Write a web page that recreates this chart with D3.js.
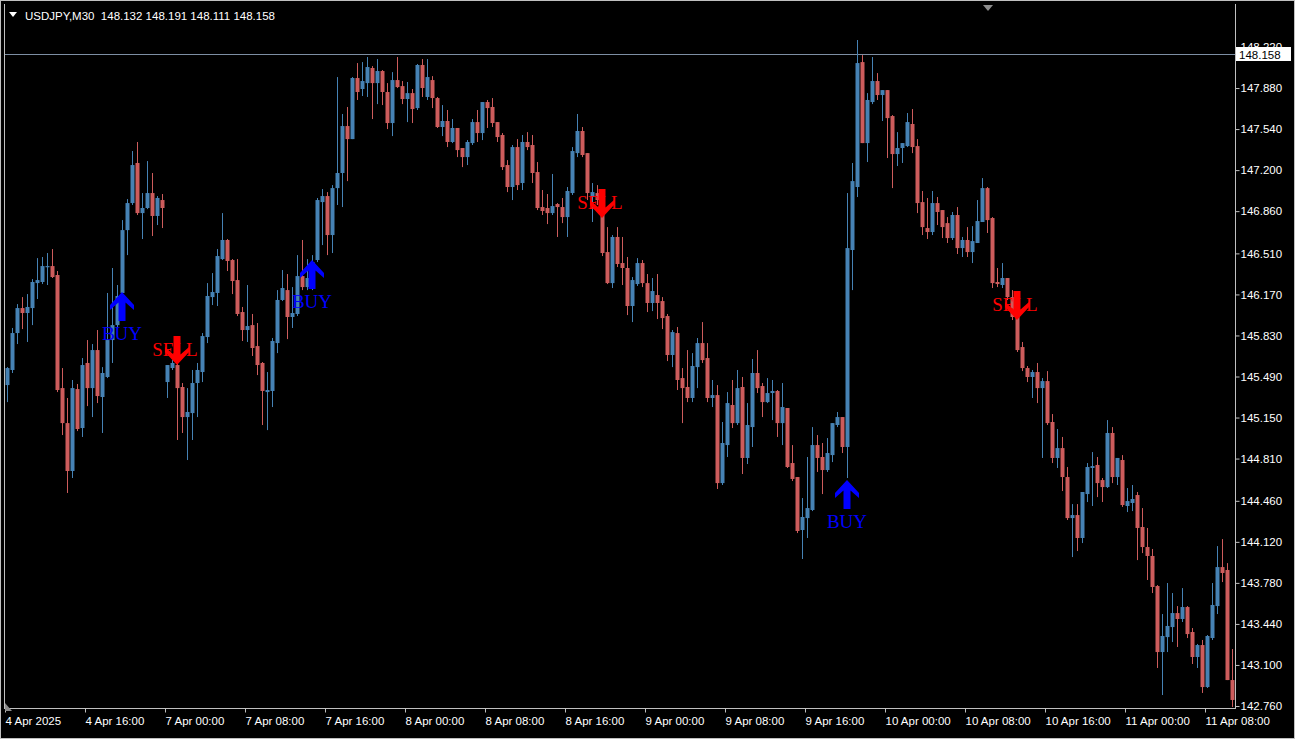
<!DOCTYPE html>
<html><head><meta charset="utf-8">
<script src="https://cdn.jsdelivr.net/npm/d3@7"></script>
<style>
html,body{margin:0;padding:0;background:#000;overflow:hidden}
svg{display:block}
</style></head>
<body><svg id="chart" width="1295" height="739"></svg>
<script>
// ---------------- DATA ----------------
const symbolTitle = "USDJPY,M30";
const headerQuote = "148.132 148.191 148.111 148.158";
const currentPrice = 148.158;

const opens = [145.419,145.544,145.850,146.057,146.016,146.057,146.264,146.273,146.397,146.405,
146.331,145.394,145.104,144.707,145.386,145.063,145.602,145.394,145.709,145.320,
145.486,145.792,145.916,146.182,146.703,146.927,147.259,146.844,146.886,147.010,
146.820,146.952,145.444,145.560,145.585,145.403,145.154,145.187,145.436,145.527,
145.817,146.148,146.182,146.463,146.621,146.455,146.289,146.024,145.875,145.916,
145.742,145.602,145.361,145.370,145.767,146.124,146.206,145.983,146.008,146.322,
146.231,146.289,146.455,146.935,146.985,146.662,147.051,147.176,147.565,147.457,
147.963,147.872,147.921,148.046,147.921,148.021,147.847,147.590,147.946,147.896,
147.789,147.838,147.714,148.071,147.806,147.946,147.797,147.557,147.607,147.433,
147.549,147.383,147.308,147.424,147.598,147.507,147.764,147.723,147.598,147.491,
147.242,147.060,147.391,147.093,147.433,147.408,147.184,146.894,146.886,146.844,
146.919,146.894,146.811,147.010,147.341,147.524,147.341,146.977,147.010,146.935,
146.521,146.264,146.646,146.430,146.389,146.074,146.256,146.430,146.264,146.099,
146.165,146.115,145.991,145.668,145.850,145.477,145.403,145.312,145.568,145.767,
145.643,145.312,145.336,144.607,144.922,145.254,145.104,145.403,144.815,145.071,
145.519,145.411,145.278,145.353,145.370,145.104,145.229,144.773,144.657,144.218,
144.317,144.384,144.922,144.823,144.715,144.839,145.088,145.154,144.906,146.538,
147.060,148.095,147.424,147.764,147.938,147.822,147.863,147.648,147.333,147.383,
147.399,147.582,147.399,146.935,146.720,146.687,146.927,146.869,146.761,146.637,
146.828,146.554,146.621,146.521,146.596,146.770,147.051,146.803,146.273,146.248,
146.306,146.148,145.983,145.734,145.560,145.486,145.527,145.394,145.452,145.113,
144.815,144.897,144.657,144.317,144.342,144.152,144.516,144.732,144.757,144.632,
144.574,145.022,144.657,144.798,144.417,144.442,144.508,144.243,144.077,144.003,
143.754,143.207,143.331,143.414,143.530,143.481,143.580,143.373,143.166,143.265,
142.917,143.323,143.588,143.911,143.887,142.975];

const highs = [145.568,145.892,146.090,146.148,146.173,146.297,146.471,146.480,146.513,146.546,
146.364,145.560,145.312,145.461,145.428,145.643,145.792,145.759,145.875,145.568,
146.182,146.389,146.248,146.786,146.960,147.358,147.433,147.010,147.275,147.176,
146.985,147.002,145.585,145.626,145.651,145.436,145.394,145.544,145.602,145.850,
146.264,146.347,146.546,146.844,146.629,146.463,146.463,146.066,146.248,146.008,
145.933,145.610,145.527,145.809,146.206,146.372,146.339,146.231,146.496,146.621,
146.463,146.496,146.969,147.043,147.018,147.076,147.971,147.665,147.723,147.971,
148.087,148.095,148.137,148.062,148.120,148.029,147.921,148.012,148.137,147.938,
147.930,147.872,148.079,148.120,148.120,147.979,147.806,147.739,147.698,147.623,
147.549,147.383,147.449,147.623,147.698,147.764,147.781,147.797,147.598,147.507,
147.283,147.408,147.457,147.491,147.515,147.491,147.267,147.035,147.002,147.168,
146.927,146.969,147.060,147.391,147.665,147.557,147.341,147.093,147.076,146.994,
146.728,146.662,146.728,146.646,146.480,146.314,146.471,146.455,146.339,146.306,
146.339,146.148,146.008,145.875,145.900,145.560,145.709,145.684,145.809,145.941,
145.767,145.461,145.419,145.113,145.361,145.461,145.544,145.486,145.270,145.635,
145.709,145.436,145.477,145.461,145.378,145.436,145.229,144.922,144.657,144.483,
144.823,145.071,145.005,144.939,144.980,145.104,145.196,145.154,147.010,147.259,
148.278,148.153,147.838,148.137,148.004,147.863,147.863,147.656,147.515,147.424,
147.673,147.706,147.457,147.027,146.969,147.027,146.977,146.869,146.811,146.853,
146.894,146.646,146.728,146.736,146.952,147.134,147.060,146.811,146.389,146.430,
146.306,146.206,145.983,145.776,145.577,145.544,145.602,145.477,145.535,145.179,
145.055,144.989,144.740,144.433,144.433,144.533,144.773,144.864,144.823,144.649,
145.129,145.071,144.815,144.839,144.566,144.591,144.533,144.400,144.235,144.061,
143.762,143.522,143.779,143.696,143.588,143.737,143.588,143.406,143.274,143.307,
143.348,143.779,144.085,144.143,143.944,143.232];

const lows = [145.278,145.519,145.759,145.883,145.776,145.916,146.132,146.256,146.248,146.306,
145.361,145.005,144.525,144.649,145.038,144.989,145.245,145.154,145.270,145.022,
145.477,145.602,145.875,146.165,146.496,146.911,146.828,146.629,146.877,146.654,
146.745,146.720,145.312,145.544,144.964,145.022,144.798,144.964,145.154,145.444,
145.767,146.082,146.074,146.455,146.364,146.173,145.991,145.784,145.776,145.660,
145.502,145.088,145.046,145.237,145.684,146.115,145.800,145.892,145.991,146.206,
146.206,146.206,146.438,146.579,146.496,146.513,146.911,146.894,147.109,147.457,
147.781,147.814,147.806,147.623,147.747,147.739,147.540,147.482,147.880,147.747,
147.598,147.590,147.698,147.806,147.781,147.714,147.549,147.482,147.391,147.424,
147.308,147.225,147.242,147.408,147.433,147.449,147.549,147.557,147.433,147.201,
147.018,146.952,147.035,147.035,147.366,147.093,146.869,146.828,146.753,146.828,
146.646,146.761,146.646,146.994,147.308,147.308,146.952,146.770,146.911,146.488,
146.256,146.223,146.397,146.248,145.999,145.941,146.240,146.231,146.024,146.032,
145.966,145.883,145.618,145.568,145.378,145.104,145.278,145.278,145.394,145.602,
145.278,145.237,144.558,144.591,144.823,145.063,145.088,144.682,144.765,144.906,
145.353,145.154,145.270,145.129,144.989,144.922,144.732,144.624,144.193,143.978,
144.152,144.375,144.699,144.516,144.699,144.781,145.071,144.856,144.649,146.206,
146.977,147.424,147.267,147.747,147.781,147.607,147.300,147.051,147.234,147.259,
147.391,147.341,146.844,146.662,146.629,146.662,146.745,146.637,146.596,146.621,
146.505,146.480,146.480,146.430,146.596,146.770,146.679,146.223,146.231,146.223,
146.124,145.958,145.693,145.535,145.444,145.312,145.270,144.815,145.088,144.773,
144.732,144.541,144.301,143.994,144.044,144.110,144.450,144.417,144.491,144.450,
144.566,144.607,144.591,144.409,144.367,144.375,143.969,144.027,143.804,143.696,
143.075,142.851,143.207,143.290,143.249,143.456,143.323,143.108,143.075,142.868,
142.909,143.307,143.522,143.787,142.975,142.752];

const closes = [145.560,145.850,146.057,146.016,146.066,146.273,146.289,146.405,146.405,146.314,
145.378,145.104,144.707,145.394,145.055,145.585,145.394,145.709,145.328,145.519,
145.792,145.916,146.157,146.703,146.927,147.242,146.844,146.886,147.010,146.820,
146.969,146.886,145.585,145.602,145.394,145.154,145.196,145.436,145.544,145.825,
146.157,146.190,146.488,146.621,146.447,146.281,146.008,145.875,145.908,145.726,
145.585,145.370,145.378,145.784,146.124,146.223,145.983,146.016,146.322,146.231,
146.306,146.438,146.952,146.985,146.662,147.051,147.176,147.565,147.457,147.963,
147.847,147.938,148.054,147.921,148.021,147.847,147.590,147.946,147.888,147.789,
147.838,147.706,148.071,147.880,147.971,147.797,147.557,147.607,147.433,147.549,
147.366,147.308,147.433,147.598,147.507,147.764,147.714,147.590,147.474,147.225,
147.060,147.391,147.076,147.433,147.391,147.176,146.886,146.861,146.844,146.902,
146.894,146.811,147.027,147.358,147.524,147.325,147.010,147.018,146.952,146.513,
146.264,146.646,146.422,146.389,146.074,146.289,146.430,146.264,146.099,146.198,
146.099,145.974,145.668,145.858,145.461,145.394,145.312,145.577,145.767,145.626,
145.312,145.336,144.607,144.939,145.270,145.104,145.394,144.815,145.088,145.519,
145.394,145.278,145.353,145.370,145.104,145.237,144.740,144.641,144.210,144.326,
144.400,144.922,144.815,144.715,144.856,145.104,145.154,144.906,146.554,147.109,
148.087,147.424,147.781,147.938,147.822,147.863,147.631,147.333,147.383,147.424,
147.598,147.391,146.927,146.728,146.687,146.927,146.853,146.728,146.637,146.828,
146.554,146.621,146.521,146.612,146.778,147.051,146.786,146.264,146.256,146.306,
146.148,145.983,145.709,145.560,145.486,145.527,145.394,145.452,145.104,144.815,
144.897,144.657,144.317,144.342,144.152,144.533,144.740,144.748,144.607,144.574,
145.022,144.657,144.815,144.425,144.458,144.475,144.235,144.077,144.003,143.746,
143.207,143.340,143.423,143.530,143.481,143.580,143.356,143.166,143.265,142.917,
143.340,143.597,143.911,143.862,142.975,142.810];

// time-axis labels: bar index -> label
const timeLabelBars = [0,16,32,48,64,80,96,112,128,144,160,176,192,208,224,240];
const timeLabels = ["4 Apr 2025","4 Apr 16:00","7 Apr 00:00","7 Apr 08:00","7 Apr 16:00",
 "8 Apr 00:00","8 Apr 08:00","8 Apr 16:00","9 Apr 00:00","9 Apr 08:00","9 Apr 16:00",
 "10 Apr 00:00","10 Apr 08:00","10 Apr 16:00","11 Apr 00:00","11 Apr 08:00"];

const priceTicks = [148.220,147.880,147.540,147.200,146.860,146.510,146.170,145.830,
 145.490,145.150,144.810,144.460,144.120,143.780,143.440,143.100,142.760];

// signals: bar index, type, price at the arrow tip
const signalBars   = [23, 34, 61, 119, 168, 202];
const signalTypes  = ["BUY","SELL","BUY","SELL","BUY","SELL"];
const signalPrices = [146.190,145.585,146.455,146.803,144.632,145.958];

// ---------------- DRAW ----------------
const W = 1295, H = 739;
const plotL = 4, plotR = 1235, plotT = 4, plotB = 708;
const bullColor = "#4682b4", bearColor = "#cd5c5c";
const fontUI = "'Liberation Sans', Arial, sans-serif";
const fontSize = 11.5;

const svg = d3.select("#chart");
svg.append("rect").attr("width", W).attr("height", H).attr("fill", "#000");

const x = d3.scaleBand().domain(d3.range(closes.length)).range([4.5, 4.5 + 5 * closes.length]).padding(0);
const y = d3.scaleLinear().domain([142.76, 148.22]).range([706, 47]);

const bars = closes.map((c, i) => ({i, o: opens[i], h: highs[i], l: lows[i], c}));

// current price line
svg.append("line")
  .attr("x1", plotL).attr("x2", plotR)
  .attr("y1", Math.round(y(currentPrice)) + 0.5).attr("y2", Math.round(y(currentPrice)) + 0.5)
  .attr("stroke", "#7d8ea3").attr("stroke-width", 1);

// candles
const g = svg.append("g");
g.selectAll("rect.wick").data(bars).join("rect")
  .attr("class", "wick")
  .attr("x", d => Math.round(x(d.i)) + 2)
  .attr("width", 1)
  .attr("y", d => y(d.h))
  .attr("height", d => Math.max(1, y(d.l) - y(d.h)))
  .attr("fill", d => d.c >= d.o ? bullColor : bearColor);
g.selectAll("rect.body").data(bars).join("rect")
  .attr("class", "body")
  .attr("x", d => Math.round(x(d.i)) + 0.5)
  .attr("width", 4)
  .attr("y", d => y(Math.max(d.o, d.c)))
  .attr("height", d => Math.max(1.2, Math.abs(y(d.o) - y(d.c))))
  .attr("fill", d => d.c >= d.o ? bullColor : bearColor);

// signals
const sig = signalBars.map((b, k) => ({b, t: signalTypes[k], p: signalPrices[k]}));
const arrowUp = "M0,0 L12,13 L12,18 L3.5,10.5 L3.5,29 L-3.5,29 L-3.5,10.5 L-12,18 L-12,13 Z";
const sg = svg.append("g");
sig.forEach(s => {
  const cx = x(s.b) + 2.5;
  const ty = y(s.p);
  if (s.t === "SELL") {
    sg.append("text").attr("x", cx - 2).attr("y", ty - 16)
      .attr("text-anchor", "middle").attr("dominant-baseline", "central")
      .attr("font-family", "'Liberation Serif','Times New Roman',serif").attr("font-size", 19)
      .attr("fill", "#ff0000").text("SELL");
    sg.append("path").attr("d", arrowUp)
      .attr("transform", `translate(${cx},${ty}) scale(1,-1)`)
      .attr("fill", "#ff0000");
  } else {
    sg.append("path").attr("d", arrowUp)
      .attr("transform", `translate(${cx},${ty})`)
      .attr("fill", "#0000ff");
    sg.append("text").attr("x", cx).attr("y", ty + 41)
      .attr("text-anchor", "middle").attr("dominant-baseline", "central")
      .attr("font-family", "'Liberation Serif','Times New Roman',serif").attr("font-size", 19)
      .attr("fill", "#0000ff").text("BUY");
  }
});

// frame
svg.append("rect").attr("x", 0.5).attr("y", 0.5).attr("width", W - 1).attr("height", H - 1)
  .attr("fill", "none").attr("stroke", "#c0c0c0");
svg.append("line").attr("x1", plotL + 0.5).attr("x2", plotL + 0.5).attr("y1", plotT).attr("y2", plotB)
  .attr("stroke", "#c0c0c0");
svg.append("line").attr("x1", plotR + 0.5).attr("x2", plotR + 0.5).attr("y1", plotT).attr("y2", plotB + 1)
  .attr("stroke", "#c0c0c0");
svg.append("line").attr("x1", plotL).attr("x2", plotR + 1).attr("y1", plotB + 0.5).attr("y2", plotB + 0.5)
  .attr("stroke", "#c0c0c0");

// price axis
const yAxis = d3.axisRight(y).tickValues(priceTicks).tickFormat(d3.format(".3f")).tickSize(4).tickPadding(1);
const ya = svg.append("g").attr("transform", `translate(${plotR + 0.5},0)`).call(yAxis);
ya.select(".domain").remove();
ya.selectAll("line").attr("stroke", "#c0c0c0");
ya.selectAll("text").attr("fill", "#ffffff").attr("font-family", fontUI).attr("font-size", fontSize);

// current price label
const cpY = Math.round(y(currentPrice));
svg.append("rect").attr("x", plotR + 1).attr("y", cpY - 7).attr("width", 55).attr("height", 14).attr("fill", "#ffffff");
svg.append("text").attr("x", plotR + 4).attr("y", cpY + 0.5).attr("dominant-baseline", "central")
  .attr("font-family", fontUI).attr("font-size", fontSize).attr("fill", "#000").text(d3.format(".3f")(currentPrice));

// time axis
const xAxis = d3.axisBottom(x).tickValues(timeLabelBars)
  .tickFormat((d, k) => timeLabels[k]).tickSize(4).tickPadding(4);
const xa = svg.append("g").attr("transform", `translate(0,${plotB + 0.5})`).call(xAxis);
xa.select(".domain").remove();
xa.selectAll(".tick").attr("transform", d => `translate(${Math.round(x(d)) + 0.5},0)`);
xa.selectAll("line").attr("stroke", "#c0c0c0");
xa.selectAll("text").attr("fill", "#ffffff").attr("font-family", fontUI).attr("font-size", fontSize)
  .attr("text-anchor", "start").attr("x", 0);

// header
svg.append("path").attr("d", "M9,12 L17,12 L13,17 Z").attr("fill", "#ffffff");
svg.append("text").attr("x", 25).attr("y", 16).attr("dominant-baseline", "central")
  .attr("font-family", fontUI).attr("font-size", fontSize).attr("fill", "#ffffff")
  .attr("xml:space", "preserve").style("white-space", "pre")
  .text(symbolTitle + "  " + headerQuote);

// chart shift marker
svg.append("path").attr("d", "M983,5 L993,5 L988,11 Z").attr("fill", "#8c8c8c");
svg.append("path").attr("d", "M5,703 L5,711 L12,711 Z").attr("fill", "#8c8c8c");
</script>
</body></html>
